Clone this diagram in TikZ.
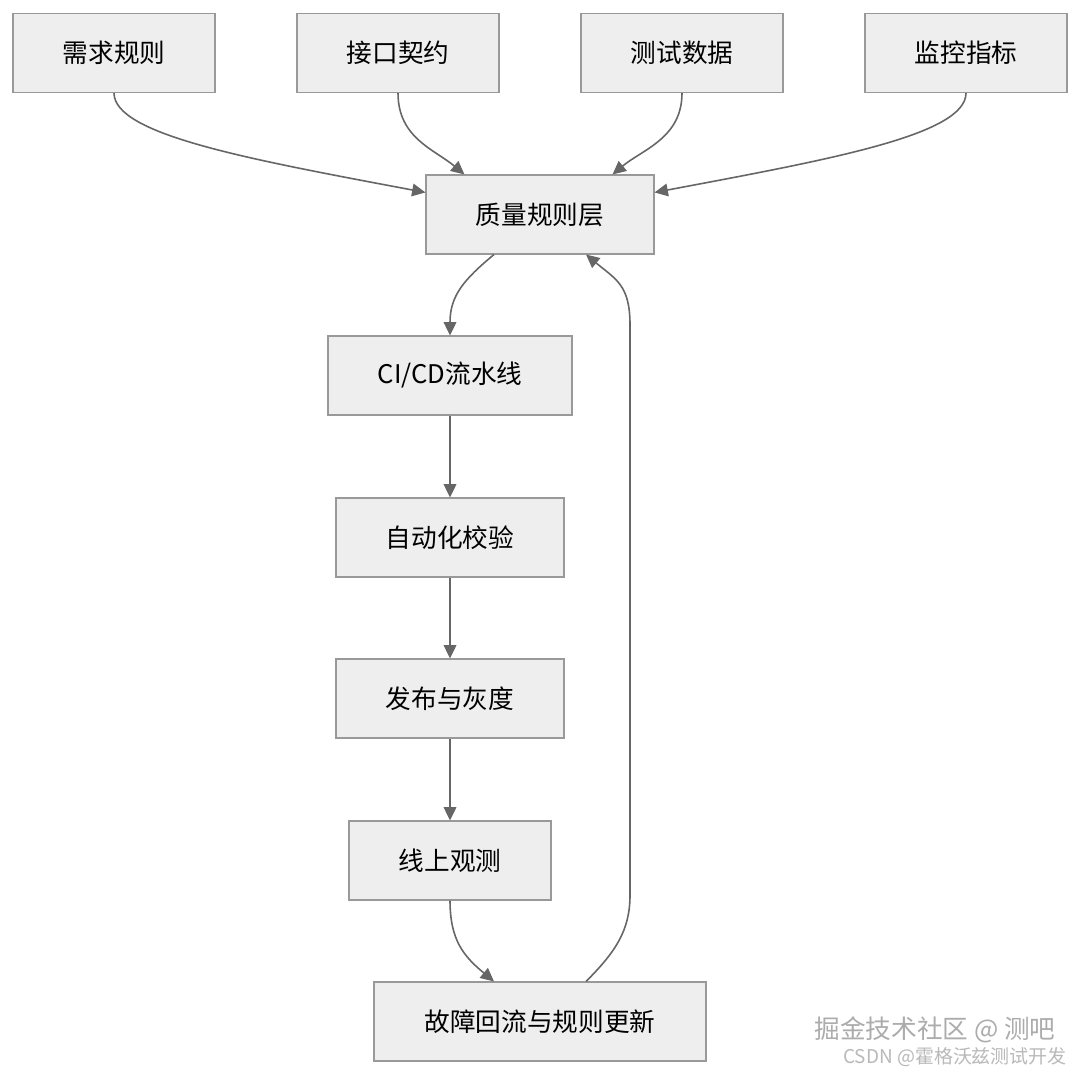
\documentclass[tikz,border=0pt]{standalone}
\usepackage{fontspec}
\setmainfont{Noto Sans CJK SC}
\usetikzlibrary{arrows.meta,calc}

\begin{document}
\begin{tikzpicture}[y=-1cm,
    boxstyle/.style={draw=black!40, line width=0.3pt, fill=gray!13,
        minimum height=0.79cm, inner sep=0pt, font=\fontsize{7.3}{9}\selectfont},
    flowarrow/.style={draw=black!60, line width=0.45pt,
        -{Triangle[length=3.8pt,width=3.6pt]}}]

    \useasboundingbox[fill=white] (0,0) rectangle (10.80,10.75);

    \newcommand*{\srcy}{0.53}%

    % sources
    \node [boxstyle, minimum width=2.02cm] (req)  at (1.14,\srcy) {需求规则};
    \node [boxstyle, minimum width=2.02cm] (api)  at (3.98,\srcy) {接口契约};
    \node [boxstyle, minimum width=2.02cm] (data) at (6.82,\srcy) {测试数据};
    \node [boxstyle, minimum width=2.02cm] (mon)  at (9.66,\srcy) {监控指标};

    % main chain
    \node [boxstyle, minimum width=2.28cm] (qual) at (5.40,2.145)  {质量规则层};
    \node [boxstyle, minimum width=2.44cm] (cicd) at (4.50,3.755)  {CI/CD流水线};
    \node [boxstyle, minimum width=2.28cm] (auto) at (4.50,5.375)  {自动化校验};
    \node [boxstyle, minimum width=2.28cm] (rel)  at (4.50,6.985)  {发布与灰度};
    \node [boxstyle, minimum width=2.02cm] (obs)  at (4.50,8.605)  {线上观测};
    \node [boxstyle, minimum width=3.32cm] (fail) at (5.40,10.215) {故障回流与规则更新};

    % into the rule layer
    \draw [flowarrow] (req.south) .. controls +(0,0.42) and +(-1.75,-0.33) .. ($(qual.north west)+(0,0.18)$);
    \draw [flowarrow] (api.south) .. controls +(0,0.45) and +(-0.30,-0.25) .. ($(qual.north west)+(0.39,0)$);
    \draw [flowarrow] (data.south) .. controls +(0,0.45) and +(0.30,-0.25) .. ($(qual.north east)+(-0.42,0)$);
    \draw [flowarrow] (mon.south) .. controls +(0,0.42) and +(1.75,-0.33) .. ($(qual.north east)+(0,0.18)$);

    % down the chain
    \draw [flowarrow] ($(qual.south)+(-0.46,0)$) .. controls +(-0.30,0.25) and +(0,-0.40) .. (cicd.north);
    \foreach \a/\b in {cicd/auto, auto/rel, rel/obs}
        \draw [flowarrow] (\a.south) -- (\b.north);
    \draw [flowarrow] (obs.south) .. controls +(0,0.40) and +(-0.30,-0.25) .. ($(fail.north)+(-0.46,0)$);

    % feedback loop
    \coordinate (loopb) at (6.30,8.95);
    \coordinate (loopt) at (6.30,3.25);
    \draw [flowarrow] ($(fail.north)+(0.46,0)$) .. controls +(0.30,-0.30) and +(0,0.35) .. (loopb)
        -- (loopt) .. controls +(0,-0.40) and +(0.30,0.25) .. ($(qual.south)+(0.46,0)$);

    % watermark
    \node [text=gray!65, font=\fontsize{7.3}{9}\selectfont] (wm1) at (9.35,10.30) {掘金技术社区 @ 测吧};
    \node [text=gray!55, font=\fontsize{5.4}{7}\selectfont] (wm2) at (9.55,10.57) {CSDN @霍格沃兹测试开发};

\end{tikzpicture}
\end{document}
